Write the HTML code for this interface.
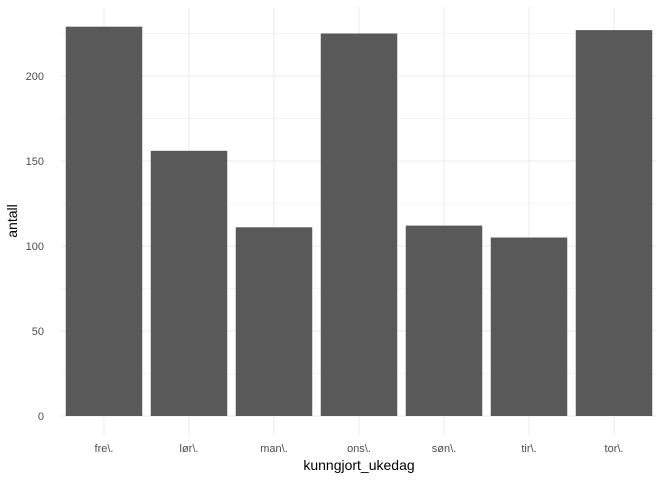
<!DOCTYPE html>
<html><head><meta charset="utf-8"><style>
body{margin:0;background:#fff}
svg{display:block;font-family:"Liberation Sans",sans-serif}
</style></head><body>
<svg id="chart" width="672" height="480"></svg>
<script>
const categories=["fre\\.","lør\\.","man\\.","ons\\.","søn\\.","tir\\.","tor\\."];
const values=[229,156,111,225,112,105,227];
const yTicks=[0,50,100,150,200];
const yMinor=[25,75,125,175,225];
const NS="http://www.w3.org/2000/svg";
const svg=document.getElementById("chart");
const plotLeft=61.5,step=85,y0=416,k=1.7,plotTop=7,plotBottom=435;
const plotRight=plotLeft+step*categories.length;
const y=v=>y0-v*k;
const x=i=>plotLeft+step*(i+0.5);
function mk(t,a){const e=document.createElementNS(NS,t);for(const n in a)e.setAttribute(n,a[n]);svg.appendChild(e);return e;}
yMinor.forEach(v=>{const l=mk("line",{x1:plotLeft,x2:plotRight,y1:y(v),y2:y(v),stroke:"#ebebeb","stroke-width":0.5});

});
yTicks.forEach(v=>{const l=mk("line",{x1:plotLeft,x2:plotRight,y1:y(v),y2:y(v),stroke:"#ebebeb","stroke-width":1});


const t=mk("text",{x:44,y:y(v)+4,"text-anchor":"end","font-size":11,fill:"#4d4d4d"});t.textContent=v;

});
categories.forEach((c,i)=>{const l=mk("line",{x1:x(i),x2:x(i),y1:plotTop,y2:plotBottom,stroke:"#ebebeb","stroke-width":1});

});
categories.forEach((c,i)=>{const w=step*0.9;
const r=mk("rect",{x:x(i)-w/2,y:y(values[i]),width:w,height:values[i]*k,fill:"#595959"});


const t=mk("text",{x:x(i),y:452,"text-anchor":"middle","font-size":11,fill:"#4d4d4d"});t.textContent=c;

});
const xt=mk("text",{x:(plotLeft+plotRight)/2,y:470,"text-anchor":"middle","font-size":14,fill:"#000"});xt.textContent="kunngjort_ukedag";


const yt=mk("text",{x:0,y:0,"text-anchor":"middle","font-size":14,fill:"#000",transform:"translate(17,221) rotate(-90)"});yt.textContent="antall";


</script>
</body></html>
